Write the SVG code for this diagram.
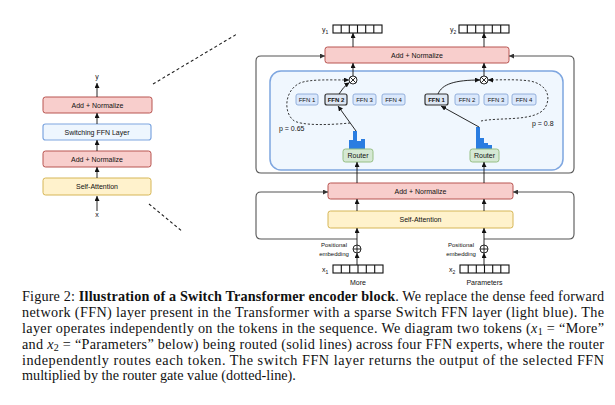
<svg xmlns="http://www.w3.org/2000/svg" width="615" height="405" viewBox="0 0 615 405">
<defs>
<marker id="ar" viewBox="0 0 10 10" markerWidth="5" markerHeight="5" refX="10" refY="5" markerUnits="userSpaceOnUse" orient="auto-start-reverse"><path d="M0,0 L10,5 L0,10 z" fill="#111"/></marker>
<marker id="arg" viewBox="0 0 10 10" markerWidth="5" markerHeight="5" refX="10" refY="5" markerUnits="userSpaceOnUse" orient="auto-start-reverse"><path d="M0,0 L10,5 L0,10 z" fill="#333"/></marker>
</defs>
<style>
text{font-family:"Liberation Sans",Arial,sans-serif;fill:#111}
.lbl{font-size:7px;text-anchor:middle}
.sm{font-size:6px;text-anchor:middle}
.pink{fill:#f8cecc;stroke:#b85450;stroke-width:1}
.yel{fill:#fff2cc;stroke:#d6b656;stroke-width:1}
.lb{fill:#eef6fe;stroke:#7ea6e0;stroke-width:1.2}
.ffn{fill:#dae8fc;stroke:#8aa8d8;stroke-width:0.9}
.ffns{fill:#dde6f2;stroke:#333;stroke-width:1.2}
.rt{fill:#d5e8d4;stroke:#97c085;stroke-width:1}
.bar{fill:#2a7de1}
.ln{stroke:#111;stroke-width:0.9;fill:none}
.fr{stroke:#555;stroke-width:1.1;fill:none}
.dash{stroke:#222;stroke-width:0.9;fill:none;stroke-dasharray:2.2,1.8}
.cell{fill:#fff;stroke:#111;stroke-width:1.1}
.cap{font-family:"Liberation Serif","Times New Roman",serif;font-size:14.2px}
</style>

<!-- Left overview -->
<g id="left-block">
<text x="97" y="79" class="lbl">y</text>
<text x="97" y="217" class="lbl">x</text>
<g id="l-addnorm2"><rect x="43" y="97" width="109" height="16" rx="2.5" class="pink"/><text x="97.5" y="107.5" class="lbl">Add + Normalize</text></g>
<g id="l-switch"><rect x="43" y="124" width="108" height="16" rx="2.5" class="lb"/><text x="97" y="134.5" class="lbl">Switching FFN Layer</text></g>
<g id="l-addnorm1"><rect x="43" y="151" width="108" height="16" rx="2.5" class="pink"/><text x="97" y="161.5" class="lbl">Add + Normalize</text></g>
<g id="l-selfatt"><rect x="43" y="178" width="108" height="17" rx="2.5" class="yel"/><text x="97" y="189" class="lbl">Self-Attention</text></g>
</g>

<!-- Right detailed block -->
<g id="switch-layer"><rect x="270" y="71" width="293" height="99" rx="11" fill="#f0f7fe" stroke="#7ea6e0" stroke-width="1.5"/></g>

<g id="y1"><text x="322" y="32" style="font-size:7px">y<tspan dy="1.5" style="font-size:5px">1</tspan></text>
<rect x="333" y="25" width="49" height="8" class="cell"/>
<path d="M341.2,25V33M349.3,25V33M357.5,25V33M365.7,25V33M373.8,25V33" stroke="#111" stroke-width="1.1"/></g>
<g id="y2"><text x="450" y="32" style="font-size:7px">y<tspan dy="1.5" style="font-size:5px">2</tspan></text>
<rect x="459" y="25" width="50" height="8" class="cell"/>
<path d="M467.3,25V33M475.7,25V33M484,25V33M492.3,25V33M500.7,25V33" stroke="#111" stroke-width="1.1"/></g>

<g id="addnorm-top"><rect x="325" y="47" width="184" height="16" rx="2.5" class="pink"/><text x="417" y="57.5" class="lbl">Add + Normalize</text></g>
<g id="addnorm-bot"><rect x="328" y="183" width="185" height="16" rx="2.5" class="pink"/><text x="420.5" y="193.5" class="lbl">Add + Normalize</text></g>
<g id="selfatt"><rect x="328" y="211" width="185" height="17" rx="2.5" class="yel"/><text x="420.5" y="222" class="lbl">Self-Attention</text></g>

<g id="mul1"><circle cx="353" cy="80" r="4" fill="#fff" stroke="#111" stroke-width="0.9"/><path d="M350.2,77.2L355.8,82.8M355.8,77.2L350.2,82.8" stroke="#111" stroke-width="0.9"/></g>
<g id="mul2"><circle cx="484" cy="80" r="4" fill="#fff" stroke="#111" stroke-width="0.9"/><path d="M481.2,77.2L486.8,82.8M486.8,77.2L481.2,82.8" stroke="#111" stroke-width="0.9"/></g>

<g id="ffn-left">
<rect x="296" y="94" width="22" height="11" rx="2" class="ffn"/><text x="307" y="101.7" class="sm">FFN 1</text>
<rect x="325" y="94" width="22" height="11" rx="2" class="ffns"/><text x="336" y="101.7" class="sm" style="font-weight:bold">FFN 2</text>
<rect x="353" y="94" width="23" height="11" rx="2" class="ffn"/><text x="364.5" y="101.7" class="sm">FFN 3</text>
<rect x="382" y="94" width="23" height="11" rx="2" class="ffn"/><text x="393.5" y="101.7" class="sm">FFN 4</text>
</g>
<g id="ffn-right">
<rect x="425" y="94" width="23" height="11" rx="2" class="ffns"/><text x="436.5" y="101.7" class="sm" style="font-weight:bold">FFN 1</text>
<rect x="455" y="94" width="24" height="11" rx="2" class="ffn"/><text x="467" y="101.7" class="sm">FFN 2</text>
<rect x="484" y="94" width="24" height="11" rx="2" class="ffn"/><text x="496" y="101.7" class="sm">FFN 3</text>
<rect x="512" y="94" width="24" height="11" rx="2" class="ffn"/><text x="524" y="101.7" class="sm">FFN 4</text>
</g>

<g id="hist-left">
<rect x="349" y="140" width="4" height="9" class="bar"/>
<rect x="353" y="131" width="4" height="18" class="bar"/>
<rect x="357" y="141" width="4" height="8" class="bar"/>
<rect x="361" y="139" width="4" height="10" class="bar"/>
</g>
<g id="hist-right">
<rect x="476" y="127" width="4" height="22" class="bar"/>
<rect x="480" y="138" width="4" height="11" class="bar"/>
<rect x="484" y="143" width="4" height="6" class="bar"/>
<rect x="488" y="145" width="4" height="4" class="bar"/>
</g>

<g id="router-left"><rect x="343" y="149" width="30" height="13" rx="2.5" class="rt"/><text x="358" y="158" class="lbl">Router</text></g>
<g id="router-right"><rect x="470" y="149" width="29" height="13" rx="2.5" class="rt"/><text x="484.5" y="158" class="lbl">Router</text></g>

<g id="pe-left"><text x="334" y="247" class="sm">Positional</text><text x="334" y="255.5" class="sm">embedding</text>
<circle cx="357" cy="249" r="4" fill="#fff" stroke="#111" stroke-width="0.9"/><path d="M353,249H361M357,245V253" stroke="#111" stroke-width="0.9"/></g>
<g id="pe-right"><text x="461" y="247" class="sm">Positional</text><text x="461" y="255.5" class="sm">embedding</text>
<circle cx="484" cy="249" r="4" fill="#fff" stroke="#111" stroke-width="0.9"/><path d="M480,249H488M484,245V253" stroke="#111" stroke-width="0.9"/></g>

<g id="x1"><text x="322" y="272" style="font-size:7px">x<tspan dy="1.5" style="font-size:5px">1</tspan></text>
<rect x="333" y="265" width="50" height="8" class="cell"/>
<path d="M341.3,265V273M349.7,265V273M358,265V273M366.3,265V273M374.7,265V273" stroke="#111" stroke-width="1.1"/>
<text x="358" y="285" class="lbl">More</text></g>
<g id="x2"><text x="449" y="272" style="font-size:7px">x<tspan dy="1.5" style="font-size:5px">2</tspan></text>
<rect x="460" y="265" width="49" height="8" class="cell"/>
<path d="M468.2,265V273M476.3,265V273M484.5,265V273M492.7,265V273M500.8,265V273" stroke="#111" stroke-width="1.1"/>
<text x="484.5" y="285" class="lbl">Parameters</text></g>

<text x="279" y="131" style="font-size:7px">p = 0.65</text>
<text x="532" y="126" style="font-size:7px">p = 0.8</text>

<g id="connectors">
<!-- left overview -->
<path d="M97,211V196" class="ln" marker-end="url(#ar)"/>
<path d="M97,178V167" class="ln" marker-end="url(#ar)"/>
<path d="M97,151V140" class="ln" marker-end="url(#ar)"/>
<path d="M97,124V113" class="ln" marker-end="url(#ar)"/>
<path d="M97,97V83" class="ln" marker-end="url(#ar)"/>
<path d="M153,84L237,34" class="dash" style="stroke-dasharray:3,2.5;stroke-width:1.1"/>
<path d="M149,204L183,232" class="dash" style="stroke-dasharray:3,2.5;stroke-width:1.1"/>
<!-- residual frames -->
<path d="M325,56H261Q256,56 256,61V168Q256,173 261,173H569Q574,173 574,168V61Q574,56 569,56H509" class="fr" marker-start="url(#arg)" marker-end="url(#arg)"/>
<path d="M357,239H261Q256,239 256,234V197Q256,192 261,192H328" class="fr" marker-end="url(#arg)"/>
<path d="M484,239H569Q574,239 574,234V197Q574,192 569,192H513" class="fr" marker-end="url(#arg)"/>
<!-- inputs -->
<path d="M357,265V253" class="ln" marker-end="url(#ar)"/>
<path d="M484,265V253" class="ln" marker-end="url(#ar)"/>
<path d="M357,245V228" class="ln" marker-end="url(#ar)"/>
<path d="M484,245V228" class="ln" marker-end="url(#ar)"/>
<path d="M357,211V199" class="ln" marker-end="url(#ar)"/>
<path d="M484,211V199" class="ln" marker-end="url(#ar)"/>
<path d="M357,183V162" class="ln" marker-end="url(#ar)"/>
<path d="M484,183V162" class="ln" marker-end="url(#ar)"/>
<!-- routing -->
<path d="M356,131L338,106" class="ln" marker-end="url(#ar)"/>
<path d="M339,94Q343,87 349.5,82.5" class="ln" marker-end="url(#ar)"/>
<path d="M479,127L441,106" class="ln" marker-end="url(#ar)"/>
<path d="M438,94C442,84 455,80 480,80" class="ln" marker-end="url(#ar)"/>
<path d="M350,123C330,125 300,126 293,120C283,111 285,90 300,83C310,79 330,80 349,80" class="dash" marker-end="url(#ar)"/>
<path d="M481,121C500,117 535,122 545,108C552,96 546,84 530,81C515,79 500,80 488,80" class="dash" marker-end="url(#ar)"/>
<!-- outputs -->
<path d="M353,76V63" class="ln" marker-end="url(#ar)"/>
<path d="M484,76V63" class="ln" marker-end="url(#ar)"/>
<path d="M353,47V33" class="ln" marker-end="url(#ar)"/>
<path d="M484,47V33" class="ln" marker-end="url(#ar)"/>
</g>

<g id="caption">
<text class="cap" x="22" y="301" textLength="582" lengthAdjust="spacing">Figure 2: <tspan font-weight="bold">Illustration of a Switch Transformer encoder block</tspan>. We replace the dense feed forward</text>
<text class="cap" x="22" y="317" textLength="582" lengthAdjust="spacing">network (FFN) layer present in the Transformer with a sparse Switch FFN layer (light blue).  The</text>
<text class="cap" x="22" y="333" textLength="582" lengthAdjust="spacing">layer operates independently on the tokens in the sequence. We diagram two tokens (<tspan font-style="italic">x</tspan><tspan font-size="10" dy="2">1</tspan><tspan dy="-2"> = “More”</tspan></text>
<text class="cap" x="22" y="348.5" textLength="582" lengthAdjust="spacing">and <tspan font-style="italic">x</tspan><tspan font-size="10" dy="2">2</tspan><tspan dy="-2"> = “Parameters” below) being routed (solid lines) across four FFN experts, where the router</tspan></text>
<text class="cap" x="22" y="364.5" textLength="582" lengthAdjust="spacing">independently routes each token.  The switch FFN layer returns the output of the selected FFN</text>
<text class="cap" x="22" y="380">multiplied by the router gate value (dotted-line).</text>
</g>
</svg>
